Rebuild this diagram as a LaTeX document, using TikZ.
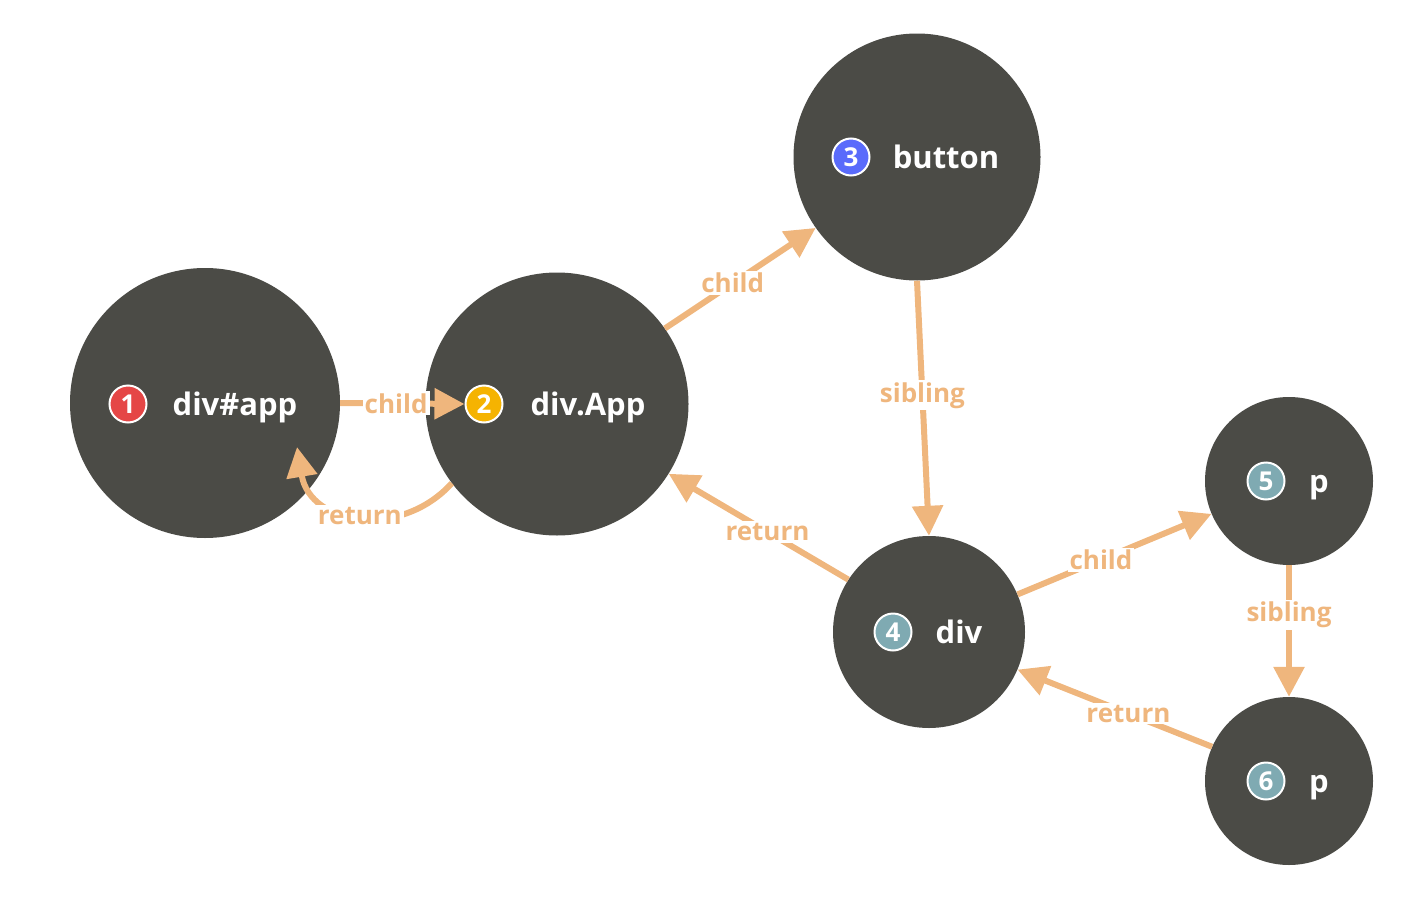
\documentclass[tikz,border=0pt]{standalone}
\usepackage{fontspec}
\setmainfont{Open Sans}
\usetikzlibrary{arrows.meta}
\definecolor{nodegray}{HTML}{4B4B46}
\definecolor{edgeor}{HTML}{EFB67D}
\definecolor{bred}{HTML}{E54646}
\definecolor{byel}{HTML}{F5B301}
\definecolor{bblue}{HTML}{5A6BFB}
\definecolor{bteal}{HTML}{7FAAB2}
\tikzset{
  fnode/.style={circle, fill=nodegray, inner sep=0pt},
  badge/.style={circle, fill=#1, draw=white, line width=2pt, minimum size=37pt, inner sep=0pt,
    text=white, font=\fontsize{26}{26}\selectfont\bfseries},
  ntext/.style={text=white, font=\fontsize{31}{31}\selectfont\bfseries, inner sep=0pt, anchor=base},
  edge/.style={draw=edgeor, line width=6pt, -{Triangle[length=30pt,width=30pt]}},
  lbl/.style={fill=white, text=edgeor, inner sep=2pt, font=\fontsize{26}{26}\selectfont\bfseries},
}
\begin{document}
\begin{tikzpicture}[x=1pt,y=-1pt]
\useasboundingbox (0,0) rectangle (1406,902);
% nodes
\node[fnode, minimum size=270pt] (n1) at (205,403) {};
\node[fnode, minimum size=263pt] (n2) at (557,404) {};
\node[fnode, minimum size=247pt] (n3) at (917,157) {};
\node[fnode, minimum size=192pt] (n4) at (929,632) {};
\node[fnode, minimum size=168pt] (n5) at (1289,481) {};
\node[fnode, minimum size=168pt] (n6) at (1289,781) {};
% badges
\node[badge=bred]  (b1) at (128,404) {1};
\node[badge=byel]  (b2) at (484,404) {2};
\node[badge=bblue] (b3) at (851,157) {3};
\node[badge=bteal] (b4) at (893,632) {4};
\node[badge=bteal] (b5) at (1266,481) {5};
\node[badge=bteal] (b6) at (1266,781) {6};
% texts
\node[ntext] (t1) at (235,415) {div\#app};
\node[ntext] (t2) at (588,415) {div.App};
\node[ntext] (t3) at (946,168) {button};
\node[ntext] (t4) at (959,643) {div};
\node[ntext] (t5) at (1319,492) {p};
\node[ntext] (t6) at (1319,792) {p};
% edges
\coordinate (r21) at (297,447);
\draw[edge] (n1.east) -- (b2.west) node[lbl, pos=0.45] {child};
\draw[edge] (n2.217) .. controls (400,540) and (310,525) .. (r21) node[lbl, pos=0.5] {return};
\draw[edge] (n2.35) -- (n3.215) node[lbl, pos=0.45] {child};
\draw[edge] (n3.south) -- (n4.north) node[lbl, pos=0.45] {sibling};
\draw[edge] (n4.147) -- (n2.328) node[lbl, pos=0.45] {return};
\draw[edge] (n4.23) -- (n5.203) node[lbl, pos=0.43] {child};
\draw[edge] (n5.south) -- (n6.north) node[lbl, pos=0.38] {sibling};
\draw[edge] (n6.156) -- (n4.337) node[lbl, pos=0.43] {return};
\end{tikzpicture}
\end{document}
